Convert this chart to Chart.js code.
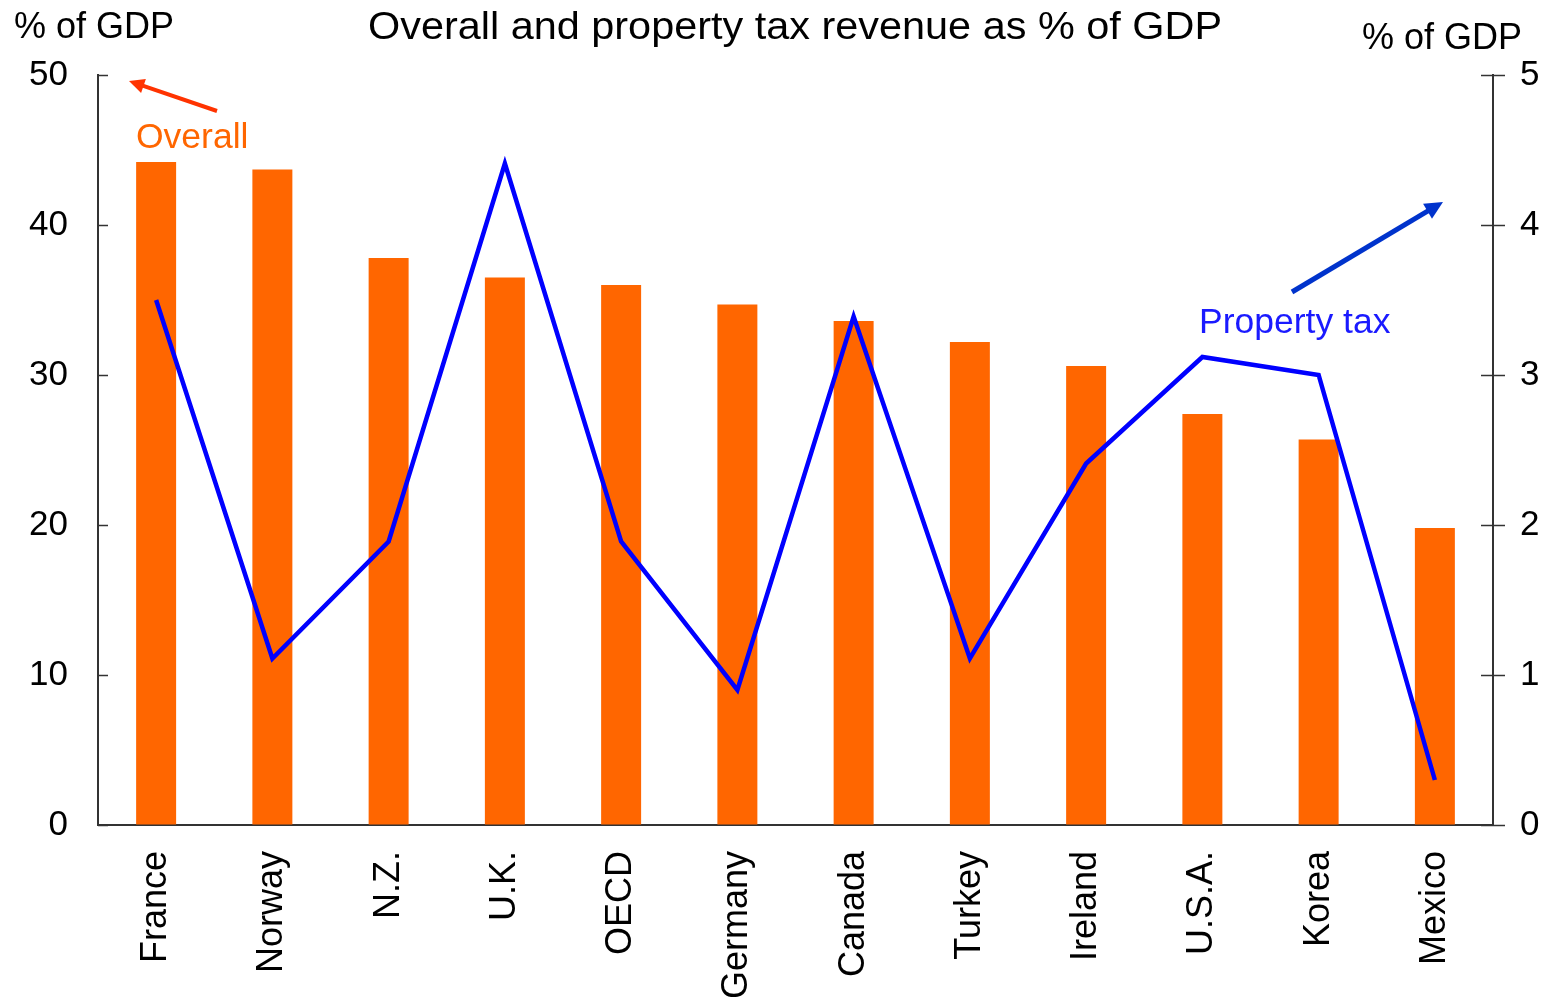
<!DOCTYPE html>
<html>
<head>
<meta charset="utf-8">
<script src="https://cdn.jsdelivr.net/npm/chart.js@4.4.1/dist/chart.umd.min.js"></script>
<style>
  html, body { margin: 0; padding: 0; background: #fff; }
  #wrap { width: 1549px; height: 997px; }
</style>
</head>
<body>
<div id="wrap"><canvas id="c" width="1549" height="997"></canvas></div>
<script>
const categories = ["France", "Norway", "N.Z.", "U.K.", "OECD", "Germany", "Canada", "Turkey", "Ireland", "U.S.A.", "Korea", "Mexico"];
const overallTax = [44.2, 43.7, 37.8, 36.5, 36.0, 34.7, 33.6, 32.2, 30.6, 27.4, 25.7, 19.8];
const propertyTax = [3.50, 1.11, 1.89, 4.41, 1.89, 0.90, 3.39, 1.11, 2.41, 3.12, 3.00, 0.30];
const leftTicks = [0, 10, 20, 30, 40, 50];
const rightTicks = [0, 1, 2, 3, 4, 5];

const FONT = "'Liberation Sans', Arial, sans-serif";
const AXIS = "#333333";

function arrow(ctx, x1, y1, x2, y2, color, w, head) {
  const a = Math.atan2(y2 - y1, x2 - x1);
  ctx.save();
  ctx.strokeStyle = color; ctx.fillStyle = color; ctx.lineWidth = w;
  ctx.beginPath();
  ctx.moveTo(x1, y1);
  ctx.lineTo(x2 - Math.cos(a) * head * 0.8, y2 - Math.sin(a) * head * 0.8);
  ctx.stroke();
  ctx.beginPath();
  ctx.moveTo(x2, y2);
  ctx.lineTo(x2 - head * Math.cos(a - 0.45), y2 - head * Math.sin(a - 0.45));
  ctx.lineTo(x2 - head * Math.cos(a + 0.45), y2 - head * Math.sin(a + 0.45));
  ctx.closePath();
  ctx.fill();
  ctx.restore();
}

function textW(ctx, txt, x, y, width) {
  const w = ctx.measureText(txt).width;
  ctx.save();
  ctx.translate(x, y);
  ctx.scale(width / w, 1);
  ctx.textAlign = 'left';
  ctx.fillText(txt, 0, 0);
  ctx.restore();
}

const decor = {
  id: 'decor',
  afterDraw(chart) {
    const ctx = chart.ctx;
    const yL = chart.scales.y, yR = chart.scales.y2;
    ctx.save();
    ctx.strokeStyle = AXIS; ctx.lineWidth = 1.5;
    leftTicks.forEach(v => {
      const p = Math.round(yL.getPixelForValue(v)) + 0.5;
      ctx.beginPath(); ctx.moveTo(yL.right, p); ctx.lineTo(yL.right + 10, p); ctx.stroke();
    });
    rightTicks.forEach(v => {
      const p = Math.round(yR.getPixelForValue(v)) + 0.5;
      ctx.beginPath(); ctx.moveTo(yR.left - 12, p); ctx.lineTo(yR.left + 12, p); ctx.stroke();
    });
    ctx.textBaseline = 'middle';
    ctx.fillStyle = '#000';
    ctx.font = "38px " + FONT;
    textW(ctx, "Overall and property tax revenue as % of GDP", 368, 29, 854);
    ctx.font = "36px " + FONT;
    ctx.textAlign = 'left';
    ctx.fillText("% of GDP", 14, 28);
    ctx.fillText("% of GDP", 1362, 39);
    ctx.font = "35.5px " + FONT;
    ctx.fillStyle = '#FF6600';
    ctx.fillText("Overall", 136, 138);
    ctx.fillStyle = '#1A1AFF';
    ctx.fillText("Property tax", 1199, 323);
    arrow(ctx, 217, 111, 129, 81, '#FF3300', 4, 17);
    arrow(ctx, 1292, 292, 1443, 202, '#0033CC', 5, 20);
    ctx.restore();
  }
};

new Chart(document.getElementById('c'), {
  data: {
    labels: categories,
    datasets: [
      {
        type: 'line',
        label: 'Property tax',
        data: propertyTax,
        yAxisID: 'y2',
        borderColor: '#0000FF',
        borderWidth: 4.5,
        pointRadius: 0,
        tension: 0,
        fill: false,
        order: 0
      },
      {
        type: 'bar',
        label: 'Overall',
        data: overallTax,
        yAxisID: 'y',
        backgroundColor: '#FF6600',
        borderWidth: 0,
        barPercentage: 0.344,
        categoryPercentage: 1.0,
        order: 1
      }
    ]
  },
  options: {
    responsive: false,
    animation: false,
    devicePixelRatio: 1,
    layout: { padding: { top: 75, left: 0, right: 0, bottom: 0 } },
    plugins: { legend: { display: false }, tooltip: { enabled: false }, title: { display: false } },
    scales: {
      x: {
        offset: true,
        grid: { display: false, drawTicks: false },
        border: { display: true, color: AXIS, width: 2 },
        ticks: {
          color: '#000', font: { family: FONT, size: 36 },
          minRotation: 90, maxRotation: 90, padding: 26, autoSkip: false
        },
        afterFit(s) { s.height = 172; }
      },
      y: {
        position: 'left',
        min: 0, max: 50,
        afterBuildTicks(s) { s.ticks = leftTicks.map(v => ({ value: v })); },
        grid: { drawOnChartArea: false, drawTicks: false },
        border: { display: true, color: AXIS, width: 2 },
        ticks: { color: '#000', font: { family: FONT, size: 35 }, padding: 30 },
        afterFit(s) { s.width = 98; }
      },
      y2: {
        position: 'right',
        min: 0, max: 5,
        afterBuildTicks(s) { s.ticks = rightTicks.map(v => ({ value: v })); },
        grid: { drawOnChartArea: false, drawTicks: false },
        border: { display: true, color: AXIS, width: 2 },
        ticks: { color: '#000', font: { family: FONT, size: 35 }, padding: 27 },
        afterFit(s) { s.width = 56; }
      }
    }
  },
  plugins: [decor]
});
</script>
</body>
</html>
